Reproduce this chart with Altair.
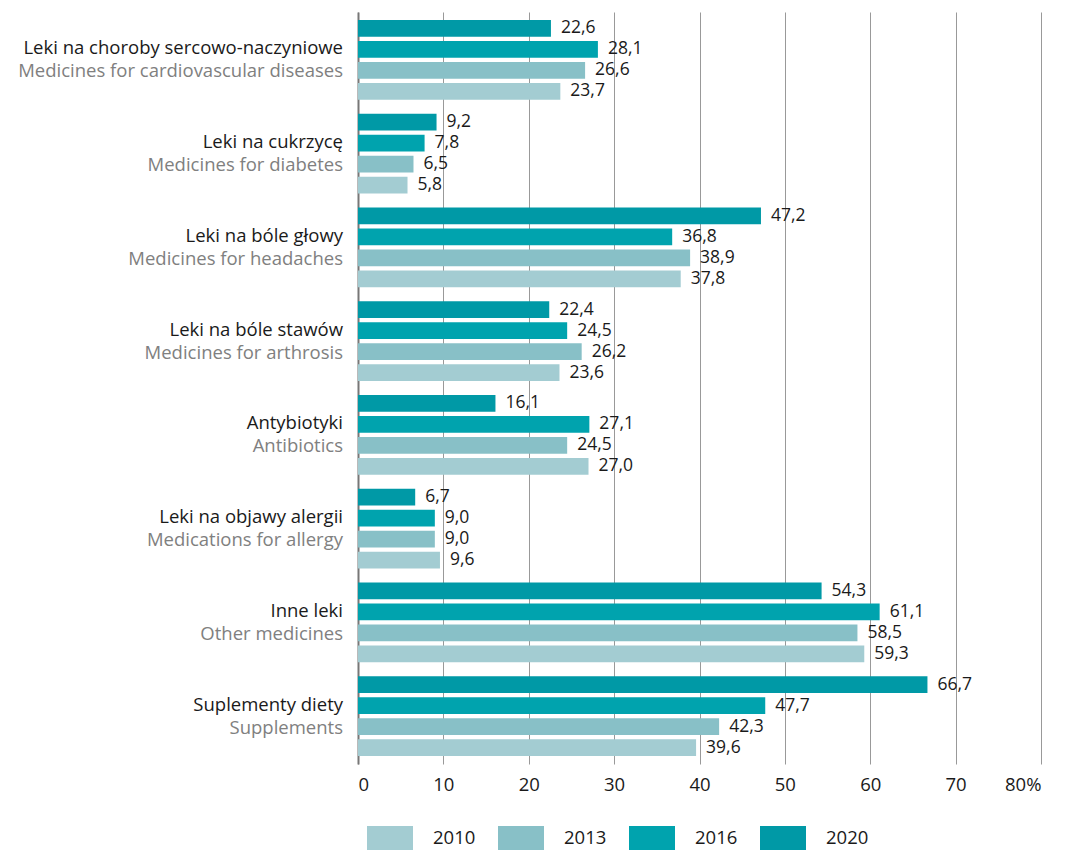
import altair as alt
import pandas as pd

cats_pl = ["Leki na choroby sercowo-naczyniowe", "Leki na cukrzycę", "Leki na bóle głowy",
           "Leki na bóle stawów", "Antybiotyki", "Leki na objawy alergii", "Inne leki",
           "Suplementy diety"]
cats_en = ["Medicines for cardiovascular diseases", "Medicines for diabetes",
           "Medicines for headaches", "Medicines for arthrosis", "Antibiotics",
           "Medications for allergy", "Other medicines", "Supplements"]
years = ["2010", "2013", "2016", "2020"]
v2010 = [23.7, 5.8, 37.8, 23.6, 27.0, 9.6, 59.3, 39.6]
v2013 = [26.6, 6.5, 38.9, 26.2, 24.5, 9.0, 58.5, 42.3]
v2016 = [28.1, 7.8, 36.8, 24.5, 27.1, 9.0, 61.1, 47.7]
v2020 = [22.6, 9.2, 47.2, 22.4, 16.1, 6.7, 54.3, 66.7]
colors = ["#a3ccd2", "#88c0c7", "#00a3ae", "#0099a6"]

series = dict(zip(years, [v2010, v2013, v2016, v2020]))
rows = []
for y in years:
    for c, v in zip(cats_pl, series[y]):
        rows.append({"cat": c, "year": y, "value": v})
df = pd.DataFrame(rows)
lab = pd.DataFrame({"cat": cats_pl, "en": cats_en})

FONT = "Open Sans"
FS = 18.5
FV = 17.5

yenc = alt.Y("cat:N", sort=cats_pl,
             scale=alt.Scale(paddingInner=0.15, paddingOuter=0.085),
             axis=alt.Axis(labels=False, ticks=False, title=None, domain=True,
                           domainColor="#777777", domainWidth=2, grid=False))
yoff = alt.YOffset("year:N", sort=["2020", "2016", "2013", "2010"],
                   scale=alt.Scale(paddingInner=0.2, paddingOuter=0))

base = alt.Chart(df)

bars = base.mark_bar().encode(
    x=alt.X("value:Q", scale=alt.Scale(domain=[0, 80], nice=False),
            axis=alt.Axis(values=list(range(0, 90, 10)), title=None, grid=True,
                          gridColor="#999999", gridWidth=1, domain=False, ticks=False,
                          labelFontSize=FS, labelPadding=11, labelColor="#1a1a1a",
                          labelFont=FONT,
                          labelExpr="datum.value == 80 ? '80%' : datum.label")),
    y=yenc,
    yOffset=yoff,
    color=alt.Color("year:N", sort=years,
                    scale=alt.Scale(domain=years, range=colors),
                    legend=alt.Legend(title=None, orient="none", direction="horizontal",
                                      legendX=9, legendY=803,
                                      symbolType="M-1,-0.52H1V0.52H-1Z",
                                      symbolSize=2116, symbolStrokeWidth=0,
                                      symbolOpacity=1,
                                      labelFontSize=FS, labelFont=FONT,
                                      labelColor="#1a1a1a", labelOffset=20,
                                      columnPadding=22)),
)

vals = base.transform_calculate(
    lbl="replace(format(datum.value, '.1f'), '.', ',')"
).mark_text(align="left", baseline="middle", dx=10, fontSize=FV, font=FONT,
            color="#1a1a1a").encode(
    x="value:Q", y=alt.Y("cat:N", sort=cats_pl), yOffset=yoff, text="lbl:N")

pl = alt.Chart(lab).mark_text(align="right", baseline="middle", dy=-11.5, fontSize=FS,
                              font=FONT, color="#1a1a1a").encode(
    x=alt.value(-15), y=alt.Y("cat:N", sort=cats_pl), text="cat:N")
en = alt.Chart(lab).mark_text(align="right", baseline="middle", dy=11.5, fontSize=FS,
                              font=FONT, color="#808080").encode(
    x=alt.value(-15), y=alt.Y("cat:N", sort=cats_pl), text="en:N")

chart = alt.layer(bars, vals, pl, en).properties(
    width=683, height=752,
    autosize=alt.AutoSizeParams(type="none"),
    padding={"left": 350, "top": 4, "right": 20, "bottom": 90},
).configure_view(stroke=None)

chart.save("out.html", embed_options={"renderer": "svg", "actions": False})
